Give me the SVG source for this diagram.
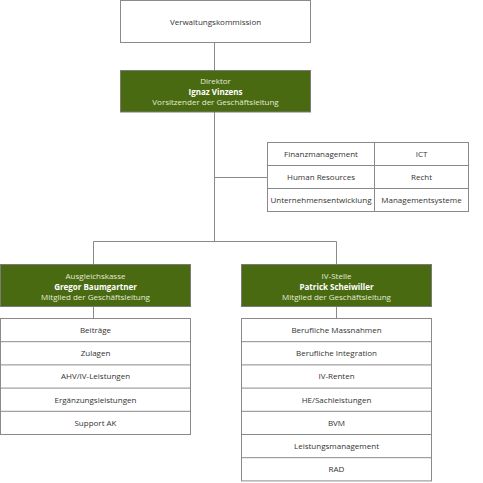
<svg xmlns="http://www.w3.org/2000/svg" width="483" height="483" viewBox="0 0 483 483">
<style>
.box{fill:#ffffff;stroke:#8a8a8a;stroke-width:1}
.gbox{fill:#4a6a12;stroke:#7a7a7a;stroke-width:1}
.ln{stroke:#8a8a8a;stroke-width:1;fill:none}
text{font-family:"Open Sans","Noto Sans",sans-serif;font-size:8px;text-anchor:middle}
.t{fill:#333333}
.g{fill:#e4ead8}
.gb{fill:#ffffff;font-weight:bold}
</style>
<rect width="483" height="483" fill="#ffffff"/>
<g id="connectors">
<path class="ln" d="M214.5 42.5V70.5M214.5 112V241.5M214.5 177.5H267.5M93.5 241.5H336.5M93.5 241.5V264.5M336.5 241.5V264.5M93.5 306.5V318.5M336.5 306.5V318.5"/>
</g>
<g id="verwaltungskommission">
<rect class="box" x="120.5" y="0.5" width="190" height="42"/>
<text class="t" x="215.5" y="24.5">Verwaltungskommission</text>
</g>
<g id="direktor">
<rect class="gbox" x="120.5" y="70.5" width="190" height="41.5"/>
<text class="g" x="215.5" y="84">Direktor</text>
<text class="gb" x="215.5" y="94.5">Ignaz Vinzens</text>
<text class="g" x="215.5" y="105">Vorsitzender der Geschäftsleitung</text>
</g>
<g id="stab">
<rect class="box" x="267.5" y="142.5" width="201" height="69"/>
<path class="ln" d="M374.5 142.5V211.5M267.5 165.5H468.5M267.5 188.5H468.5"/>
<text class="t" x="321" y="157">Finanzmanagement</text>
<text class="t" x="421.5" y="157">ICT</text>
<text class="t" x="321" y="180">Human Resources</text>
<text class="t" x="421.5" y="180">Recht</text>
<text class="t" x="321" y="203">Unternehmensentwicklung</text>
<text class="t" x="421.5" y="203">Managementsysteme</text>
</g>
<g id="ausgleichskasse">
<rect class="gbox" x="0.5" y="264.5" width="190" height="42"/>
<text class="g" x="95.5" y="278.5">Ausgleichskasse</text>
<text class="gb" x="95.5" y="289.5">Gregor Baumgartner</text>
<text class="g" x="95.5" y="300">Mitglied der Geschäftsleitung</text>
</g>
<g id="ak-list">
<rect class="box" x="0.5" y="318.5" width="190" height="116"/>
<path class="ln" d="M0.5 341.7H190.5M0.5 364.9H190.5M0.5 388.1H190.5M0.5 411.3H190.5"/>
<text class="t" x="95.5" y="333">Beiträge</text>
<text class="t" x="95.5" y="356.2">Zulagen</text>
<text class="t" x="95.5" y="379.4">AHV/IV-Leistungen</text>
<text class="t" x="95.5" y="402.6">Ergänzungsleistungen</text>
<text class="t" x="95.5" y="425.8">Support AK</text>
</g>
<g id="iv-stelle">
<rect class="gbox" x="241.5" y="264.5" width="190" height="42"/>
<text class="g" x="336.5" y="278.5">IV-Stelle</text>
<text class="gb" x="336.5" y="289.5">Patrick Scheiwiller</text>
<text class="g" x="336.5" y="300">Mitglied der Geschäftsleitung</text>
</g>
<g id="iv-list">
<rect class="box" x="241.5" y="318.5" width="190" height="162.4"/>
<path class="ln" d="M241.5 341.7H431.5M241.5 364.9H431.5M241.5 388.1H431.5M241.5 411.3H431.5M241.5 434.5H431.5M241.5 457.7H431.5"/>
<text class="t" x="336.5" y="333">Berufliche Massnahmen</text>
<text class="t" x="336.5" y="356.2">Berufliche Integration</text>
<text class="t" x="336.5" y="379.4">IV-Renten</text>
<text class="t" x="336.5" y="402.6">HE/Sachleistungen</text>
<text class="t" x="336.5" y="425.8">BVM</text>
<text class="t" x="336.5" y="449">Leistungsmanagement</text>
<text class="t" x="336.5" y="472.2">RAD</text>
</g>
</svg>
